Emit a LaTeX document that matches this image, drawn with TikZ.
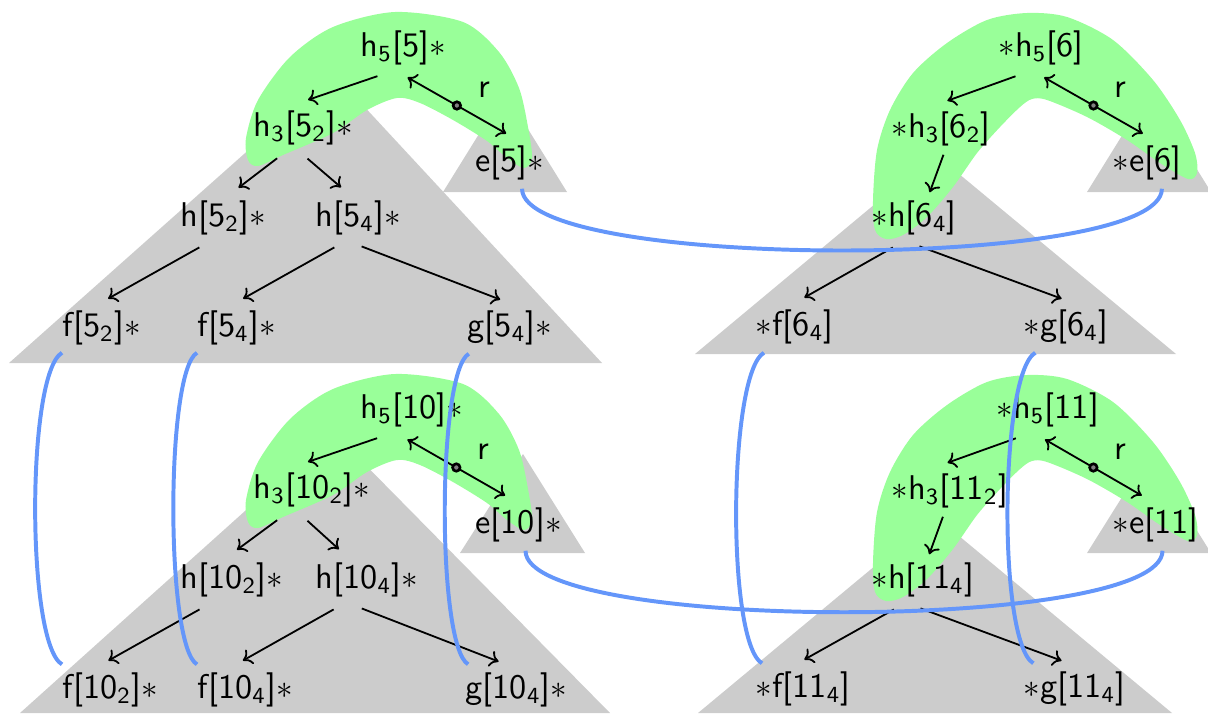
\documentclass[tikz,border=0pt]{standalone}
\usepackage{amsmath}
\usepackage{amssymb}
\usepackage{tikz}
\usetikzlibrary{arrows.meta}

\definecolor{linkblue}{RGB}{100,150,250}

\begin{document}
\begin{tikzpicture}[x=0.1065mm, y=0.1065mm,
    font=\sffamily\fontsize{10.4pt}{12.5pt}\selectfont,
    >={To[length=2.6pt, width=5pt]},
    lbl/.style={anchor=west, inner xsep=0pt, inner ysep=2.4pt},
    edge/.style={->, line width=0.55pt, shorten <=0.8mm, shorten >=0.8mm},
    redge/.style={<->, line width=0.55pt, shorten <=0.8mm, shorten >=0.8mm},
    dotmark/.style={circle, draw, fill=gray, line width=0.8pt, inner sep=0.8pt},
    rlabel/.style={xshift=2.9mm, yshift=1.7mm},
    tri/.style={fill=gray!40},
    blob/.style={fill=green!40},
    link/.style={linkblue, line width=1.2pt}]

\useasboundingbox (0,0) rectangle (1208,-713);

% Subtrees
\fill[tri] (334,-74) -- (9,-363) -- (602,-363) -- cycle;
\fill[tri] (505,-92) -- (443,-192) -- (567,-192) -- cycle;
\fill[tri] (935,-154) -- (695,-354) -- (1176,-354) -- cycle;
\fill[tri] (1149,-92) -- (1087,-192) -- (1211,-192) -- cycle;
\fill[tri] (333,-432) -- (20,-713) -- (610,-713) -- cycle;
\fill[tri] (523,-454) -- (460,-553) -- (585,-553) -- cycle;
\fill[tri] (935,-516) -- (698,-713) -- (1172,-713) -- cycle;
\fill[tri] (1149,-454) -- (1087,-553) -- (1211,-553) -- cycle;

% Paths
\fill[blob] plot[smooth cycle] coordinates {(248,-160) (246,-138) (258,-100)
    (290,-57) (333,-27) (395,-12) (463,-22) (499,-52) (519,-88) (528,-127)
    (532,-158) (524,-168) (507,-158) (487,-141) (453,-120) (420,-103)
    (397,-98) (367,-110) (333,-133) (283,-155) (258,-166)};
\fill[blob, shift={(0,-362)}] plot[smooth cycle] coordinates {(248,-160)
    (246,-138) (258,-100) (290,-57) (333,-27) (395,-12) (463,-22) (499,-52)
    (519,-88) (528,-127) (532,-158) (524,-168) (507,-158) (487,-141)
    (453,-120) (420,-103) (397,-98) (367,-110) (333,-133) (283,-155) (258,-166)};
\fill[blob] plot[smooth cycle] coordinates {(875,-230) (873,-200) (877,-150)
    (890,-110) (913,-73) (947,-43) (987,-20) (1027,-13) (1067,-17) (1113,-40)
    (1153,-80) (1180,-120) (1195,-153) (1197,-173) (1188,-179) (1160,-163)
    (1127,-140) (1087,-117) (1047,-100) (1032,-99) (1020,-107) (1000,-127)
    (977,-153) (953,-187) (927,-217) (903,-235) (886,-239)};
\fill[blob, shift={(0,-362)}] plot[smooth cycle] coordinates {(875,-230)
    (873,-200) (877,-150) (890,-110) (913,-73) (947,-43) (987,-20) (1027,-13)
    (1067,-17) (1113,-40) (1153,-80) (1180,-120) (1195,-153) (1197,-173)
    (1188,-179) (1160,-163) (1127,-140) (1087,-117) (1047,-100) (1032,-99)
    (1020,-107) (1000,-127) (977,-153) (953,-187) (927,-217) (903,-235) (886,-239)};

% Nodes
\node[lbl] (h5a) at (360,-48) {h$_\mathsf{5}$[5]$\ast$};
\node[lbl] (h3a) at (253,-128) {h$_\mathsf{3}$[5$_\mathsf{2}$]$\ast$};
\node[lbl] (ea) at (475,-163) {e[5]$\ast$};
\node[lbl] (h52) at (180,-218) {h[5$_\mathsf{2}$]$\ast$};
\node[lbl] (h54) at (315,-218) {h[5$_\mathsf{4}$]$\ast$};
\node[lbl] (f52) at (62,-328) {f[5$_\mathsf{2}$]$\ast$};
\node[lbl] (f54) at (197,-328) {f[5$_\mathsf{4}$]$\ast$};
\node[lbl] (g54) at (467,-328) {g[5$_\mathsf{4}$]$\ast$};

\node[lbl] (h5b) at (998,-48) {$\ast$h$_\mathsf{5}$[6]};
\node[lbl] (h3b) at (891,-129) {$\ast$h$_\mathsf{3}$[6$_\mathsf{2}$]};
\node[lbl] (eb) at (1112,-163) {$\ast$e[6]};
\node[lbl] (h64) at (871,-218) {$\ast$h[6$_\mathsf{4}$]};
\node[lbl] (f64) at (755,-327) {$\ast$f[6$_\mathsf{4}$]};
\node[lbl] (g64) at (1023,-327) {$\ast$g[6$_\mathsf{4}$]};

\node[lbl] (h5c) at (360,-410) {h$_\mathsf{5}$[10]$\ast$};
\node[lbl] (h3c) at (253,-490) {h$_\mathsf{3}$[10$_\mathsf{2}$]$\ast$};
\node[lbl] (ec) at (475,-525) {e[10]$\ast$};
\node[lbl] (h102) at (180,-580) {h[10$_\mathsf{2}$]$\ast$};
\node[lbl] (h104) at (315,-580) {h[10$_\mathsf{4}$]$\ast$};
\node[lbl] (f102) at (62,-690) {f[10$_\mathsf{2}$]$\ast$};
\node[lbl] (f104) at (197,-690) {f[10$_\mathsf{4}$]$\ast$};
\node[lbl] (g104) at (465,-690) {g[10$_\mathsf{4}$]$\ast$};

\node[lbl] (h5d) at (996,-410) {$\ast$h$_\mathsf{5}$[11]};
\node[lbl] (h3d) at (891,-491) {$\ast$h$_\mathsf{3}$[11$_\mathsf{2}$]};
\node[lbl] (ed) at (1112,-525) {$\ast$e[11]};
\node[lbl] (h114) at (871,-580) {$\ast$h[11$_\mathsf{4}$]};
\node[lbl] (f114) at (755,-689) {$\ast$f[11$_\mathsf{4}$]};
\node[lbl] (g114) at (1023,-689) {$\ast$g[11$_\mathsf{4}$]};

% Edges
\draw[edge] (h5a.-126) -- (h3a.95);
\draw[redge] (h5a.-95) -- node[dotmark] {} node[rlabel] {r} (ea.84);
\draw[edge] (h3a.-128) -- (h52.70);
\draw[edge] (h3a.-93) -- (h54.114);
\draw[edge] (h52.-124) -- (f52.90);
\draw[edge] (h54.-124) -- (f54.90);
\draw[edge] (h54.-98) -- (g54.96);

\draw[edge] (h5b.-126) -- (h3b.92);
\draw[redge] (h5b.-98) -- node[dotmark] {} node[rlabel] {r} (eb.85);
\draw[edge, shorten <=0pt, shorten >=0pt] (h3b.-85) -- (h64.59);
\draw[edge] (h64.-120) -- (f64.83);
\draw[edge] (h64.-94) -- (g64.84);

\draw[edge] (h5c.-137) -- (h3c.113);
\draw[redge] (h5c.-113) -- node[dotmark] {} node[rlabel] {r} (ec.105);
\draw[edge] (h3c.-138) -- (h102.92);
\draw[edge] (h3c.-111) -- (h104.131);
\draw[edge] (h102.-135) -- (f102.108);
\draw[edge] (h104.-136) -- (f104.109);
\draw[edge] (h104.-115) -- (g104.113);

\draw[edge] (h5d.-134) -- (h3d.110);
\draw[redge] (h5d.-110) -- node[dotmark] {} node[rlabel] {r} (ed.106);
\draw[edge, shorten <=0pt, shorten >=0pt] (h3d.-105) -- (h114.76);
\draw[edge] (h114.-131) -- (f114.102);
\draw[edge] (h114.-110) -- (g114.103);

% Links
\draw[link] (ea.-65) to[out=-90, in=-90, looseness=0.33] (eb.-60);
\draw[link] (ec.-75) to[out=-90, in=-90, looseness=0.33] (ed.-75);
\draw[link] (f52.-148) to[out=-150, in=150, looseness=0.34] (f102.152);
\draw[link] (f54.-148) to[out=-150, in=150, looseness=0.3] (f104.152);
\draw[link] (g54.-148) to[out=-150, in=150, looseness=0.3] (g104.152);
\draw[link] (f64.-140) to[out=-150, in=150, looseness=0.34] (f114.148);
\draw[link] (g64.-140) to[out=-150, in=150, looseness=0.34] (g114.148);
\end{tikzpicture}
\end{document}
